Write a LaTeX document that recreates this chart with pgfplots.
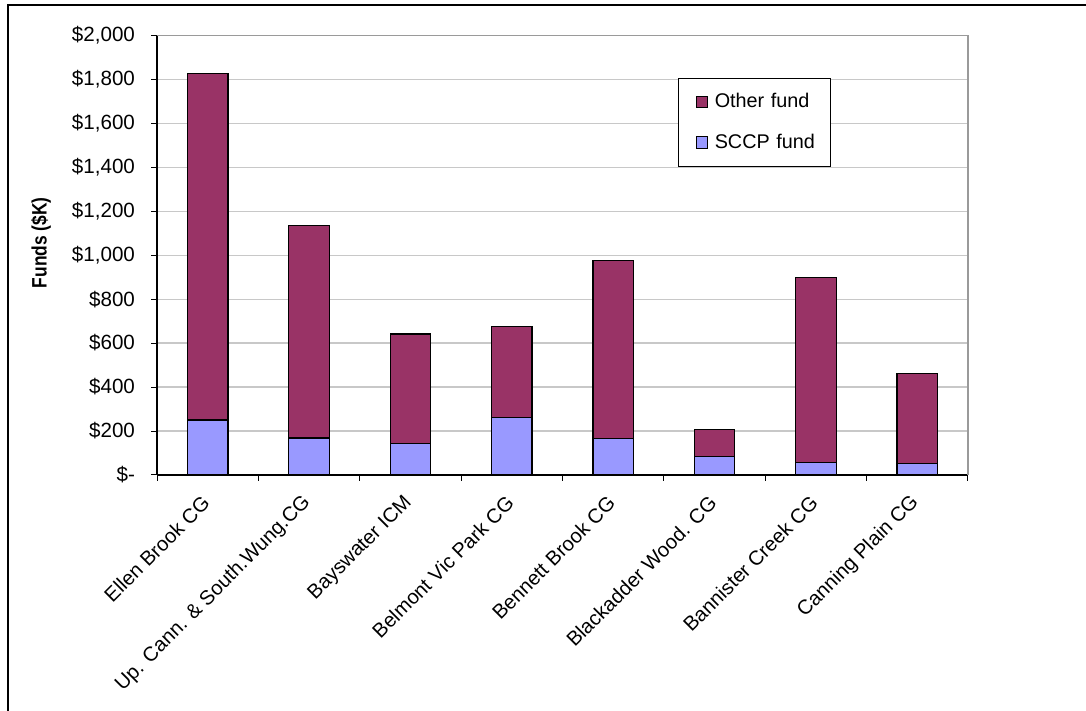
\documentclass[border=0pt]{standalone}
\usepackage{fontspec}
\setmainfont{Liberation Sans}
\usepackage{pgfplots}
\pgfplotsset{compat=1.18}

\definecolor{otherfund}{HTML}{993366}
\definecolor{sccpfund}{HTML}{9999FF}
\definecolor{gridgray}{HTML}{C8C8C8}
\definecolor{framegray}{HTML}{9A9A9A}

\newcommand{\xtickfont}{\fontsize{10.1}{12}\selectfont}
\newcommand{\ytickfont}{\fontsize{10.3}{12}\selectfont}
\newcommand{\legfont}{\fontsize{9.9}{11.5}\selectfont}

\begin{document}
\begin{tikzpicture}
% page area and outer chart frame
\fill[white] (0,0) rectangle (543pt,355.5pt);
\useasboundingbox (0,0) rectangle (543pt,355.5pt);
\draw[line width=0.9pt] (4pt,-2pt) -- (4pt,353pt) -- (548pt,353pt);

\begin{axis}[
  at={(78.5pt,118pt)}, anchor=south west,
  scale only axis, width=405.5pt, height=219.85pt,
  ybar stacked, bar width=0.4,
  xmin=-0.5, xmax=7.5, ymin=0, ymax=2000,
  axis x line*=bottom, axis y line*=left,
  axis line style={black, line width=0.6pt},
  tick align=outside, major tick length=3pt,
  tick style={black, line width=0.5pt},
  xtick={-0.5,0.5,...,7.5}, xticklabels={},
  extra x ticks={0,1,2,3,4,5,6,7},
  extra x tick labels={Ellen Brook CG, Up. Cann. \& South.Wung.CG, Bayswater ICM,
    Belmont Vic Park CG, Bennett Brook CG, Blackadder Wood. CG,
    Bannister Creek CG, Canning Plain CG},
  extra x tick style={major tick length=0pt},
  xticklabel style={font=\xtickfont, xshift=0pt, yshift=-11.5pt, rotate=45, anchor=east, inner sep=1pt},
  ytick={0,200,...,2000},
  yticklabels={\$-,\$200,\$400,\$600,\$800,{\$1,000},{\$1,200},{\$1,400},{\$1,600},{\$1,800},{\$2,000}},
  yticklabel style={font=\ytickfont, xshift=-4.5pt},
  ymajorgrids, grid style={gridgray, line width=0.6pt},
  clip=false,
  reverse legend,
  legend cell align=left,
  legend image code/.code={
    \path[draw=none, fill=none] (-6pt,0pt) -- (7.3pt,0pt);
    \draw[#1, line width=0.5pt] (0pt,-2.8pt) rectangle (5.6pt,2.8pt);},
  legend style={at={(0.642,0.903)}, anchor=north west, draw=black, line width=0.5pt,
    font=\legfont, inner xsep=3pt, inner ysep=5.5pt, row sep=7.5pt,
    nodes={text width=53pt, align=left}},
]
% SCCP funding sits at the bottom of each stack
\addplot[fill=sccpfund, draw=black, line width=0.6pt] coordinates {
  (0,250) (1,168) (2,142) (3,262) (4,167) (5,83) (6,58) (7,53)};
\addlegendentry{SCCP fund}
% remaining funding from other sources
\addplot[fill=otherfund, draw=black, line width=0.6pt] coordinates {
  (0,1578) (1,966) (2,499) (3,414) (4,809) (5,125) (6,841) (7,408)};
\addlegendentry{Other fund}
% plot-area border on the top and right
\draw[framegray, line width=0.6pt] (rel axis cs:0,1) -- (rel axis cs:1,1) -- (rel axis cs:1,0);
% vertical axis title
\node[rotate=90, yscale=1.2, anchor=center, font=\fontsize{8.7}{10}\selectfont\bfseries]
  at (rel axis cs:-0.143,0.528) {Funds (\$K)};
\end{axis}
\end{tikzpicture}
\end{document}
